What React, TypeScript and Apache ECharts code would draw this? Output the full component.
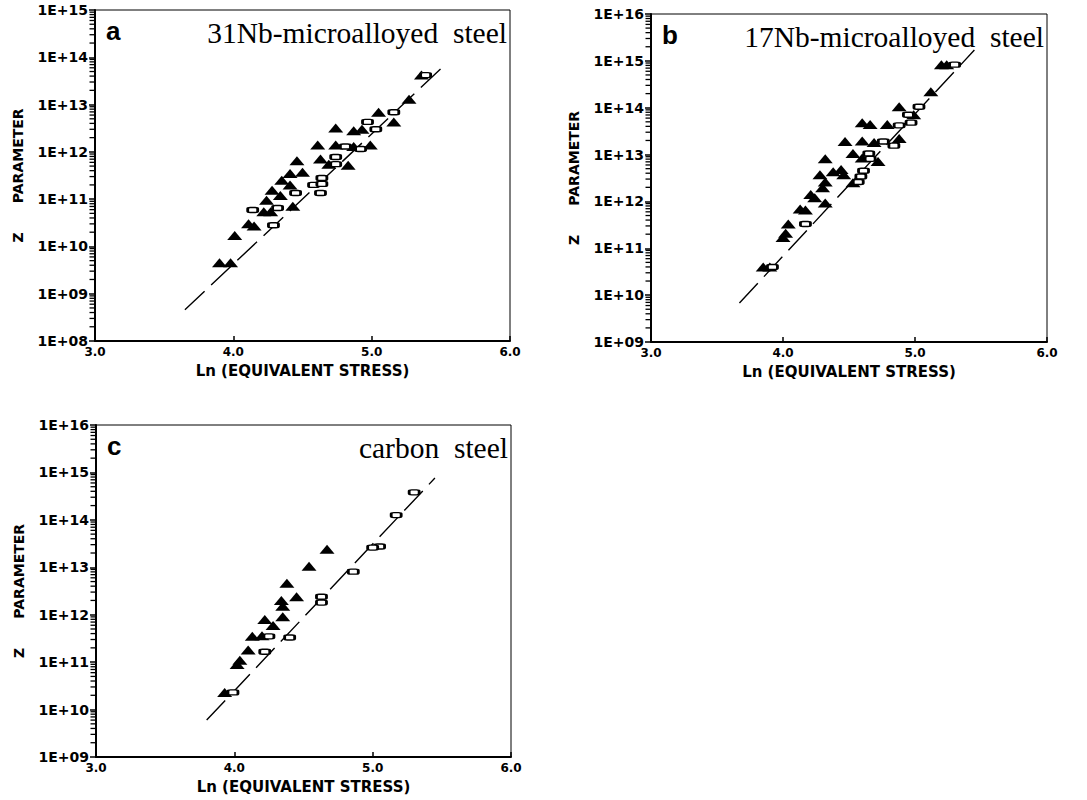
import React, { useEffect, useRef } from "react";
import * as echarts from "echarts";

// ---------- DATA ----------
// x: Ln(equivalent stress); z: Zener-Hollomon parameter
const xTicks = ["3.0", "4.0", "5.0", "6.0"];

// Panel a: 31Nb-microalloyed steel
const aTriX = [5.36, 5.27, 5.05, 5.16, 4.74, 4.87, 4.93, 4.61, 4.74, 4.87, 4.99, 4.46, 4.63, 4.69, 4.83, 4.41, 4.5, 4.35, 4.41, 4.28, 4.24, 4.34, 4.43, 4.22, 4.27, 4.11, 4.15, 4.01, 3.9, 3.98];
const aTriZ = [4.2e13, 1.3e13, 6.9e12, 4.3e12, 3.2e12, 2.8e12, 3.0e12, 1.4e12, 1.4e12, 1.3e12, 1.4e12, 6.5e11, 7.1e11, 5.5e11, 5.2e11, 3.5e11, 3.7e11, 2.5e11, 2.0e11, 1.55e11, 9.5e10, 1.2e11, 7.1e10, 5.4e10, 5.4e10, 3.0e10, 2.7e10, 1.7e10, 4.5e9, 4.5e9];
const aRectX = [5.39, 5.16, 4.97, 5.03, 4.81, 4.92, 4.74, 4.74, 4.64, 4.58, 4.64, 4.45, 4.63, 4.14, 4.32, 4.29];
const aRectZ = [4.2e13, 6.9e12, 4.3e12, 3.0e12, 1.3e12, 1.15e12, 7.8e11, 5.5e11, 2.8e11, 2.0e11, 2.1e11, 1.35e11, 1.35e11, 5.9e10, 6.5e10, 2.8e10];
const aLineX = [3.65, 5.53];
const aLineZ = [4.6e8, 6.9e13];

// Panel b: 17Nb-microalloyed steel
const bTriX = [5.2, 5.24, 5.12, 4.88, 4.99, 4.6, 4.66, 4.79, 4.47, 4.6, 4.69, 4.88, 4.32, 4.53, 4.6, 4.72, 4.44, 4.38, 4.28, 4.46, 4.53, 4.32, 4.3, 4.21, 4.24, 4.32, 4.13, 4.17, 4.04, 4.02, 4.0, 3.85, 3.9];
const bTriZ = [8.3e14, 8.3e14, 2.2e14, 1.05e14, 7.1e13, 4.8e13, 4.4e13, 4.4e13, 1.9e13, 1.95e13, 1.8e13, 2.2e13, 8.1e12, 1.05e13, 8.5e12, 7.1e12, 4.8e12, 4.3e12, 3.7e12, 3.7e12, 2.5e12, 2.6e12, 1.95e12, 1.4e12, 1.2e12, 9.3e11, 6.9e11, 6.6e11, 3.3e11, 2.1e11, 1.7e11, 4.0e10, 4.0e10];
const bRectX = [5.3, 5.03, 4.95, 4.88, 4.97, 4.76, 4.84, 4.65, 4.66, 4.61, 4.59, 4.57, 4.17, 3.92];
const bRectZ = [8.3e14, 1.05e14, 7.1e13, 4.2e13, 4.8e13, 1.9e13, 1.55e13, 1.05e13, 8.1e12, 4.5e12, 3.4e12, 2.6e12, 3.3e11, 4.0e10];
const bLineX = [3.67, 5.45];
const bLineZ = [6.8e9, 1.7e15];

// Panel c: carbon steel
const cTriX = [4.67, 4.54, 4.38, 4.45, 4.34, 4.35, 4.35, 4.22, 4.28, 4.13, 4.2, 4.1, 4.04, 4.02, 3.93];
const cTriZ = [2.4e13, 1.05e13, 4.6e12, 2.4e12, 2.0e12, 1.5e12, 9.1e11, 7.9e11, 5.9e11, 3.5e11, 3.6e11, 1.8e11, 1.1e11, 8.9e10, 2.3e10];
const cRectX = [5.3, 5.17, 5.05, 5.0, 4.86, 4.63, 4.63, 4.25, 4.4, 4.22, 3.99];
const cRectZ = [3.8e14, 1.26e14, 2.75e13, 2.6e13, 8.1e12, 2.4e12, 1.8e12, 3.5e11, 3.3e11, 1.66e11, 2.3e10];
const cLineX = [3.8, 5.45];
const cLineZ = [6.0e9, 7.6e14];

const panelLetters = ["a", "b", "c"];
const panelTitles = ["31Nb-microalloyed\u00a0\u00a0steel", "17Nb-microalloyed\u00a0\u00a0steel", "carbon\u00a0\u00a0steel"];
const yDecadeRanges = [
  [8, 15],
  [9, 16],
  [9, 16],
];
const xName = "Ln (EQUIVALENT STRESS)";
const yName = "Z\u00a0\u00a0\u00a0\u00a0\u00a0\u00a0PARAMETER";

// ---------- LAYOUT ----------
const grids = [
  { left: 95, top: 10, width: 415, height: 331 },
  { left: 651, top: 14, width: 396, height: 328 },
  { left: 96, top: 425, width: 415, height: 332 },
];

const SANS_B = "DejaVu Sans";

const pairs = (xs: number[], zs: number[]) => xs.map((x, i) => [x, Math.log10(zs[i])]);

const expLabel = (v: number) => "1E+" + (v < 10 ? "0" : "") + Math.round(v);

function minorTicks(lo: number, hi: number) {
  const out: number[] = [];
  for (let d = lo; d < hi; d++) {
    for (let k = 2; k <= 9; k++) out.push(d + Math.log10(k));
  }
  return out;
}

export default function App() {
  const ref = useRef<HTMLDivElement>(null);

  useEffect(() => {
    if (!ref.current) return;
    const chart = echarts.init(ref.current, undefined, { renderer: "svg" });

    const panels = [
      { tri: pairs(aTriX, aTriZ), rect: pairs(aRectX, aRectZ), line: pairs(aLineX, aLineZ) },
      { tri: pairs(bTriX, bTriZ), rect: pairs(bRectX, bRectZ), line: pairs(bLineX, bLineZ) },
      { tri: pairs(cTriX, cTriZ), rect: pairs(cRectX, cRectZ), line: pairs(cLineX, cLineZ) },
    ];

    const xAxes = grids.map((_, i) => ({
      type: "value",
      gridIndex: i,
      min: 3,
      max: 6,
      interval: 1,
      axisLine: { show: true, lineStyle: { color: "#000", width: 2 } },
      axisTick: { show: true, inside: true, length: 5, lineStyle: { color: "#000", width: 1.5 } },
      axisLabel: {
        color: "#000",
        fontFamily: SANS_B,
        fontWeight: "bold",
        fontSize: 12,
        margin: 5,
        formatter: (v: number) => xTicks[Math.round(v - 3)] ?? v.toFixed(1),
      },
      splitLine: { show: false },
      name: xName,
      nameLocation: "middle",
      nameGap: 22,
      nameTextStyle: { color: "#000", fontFamily: SANS_B, fontWeight: "bold", fontSize: 15 },
    }));

    const yMain = grids.map((_, i) => ({
      type: "value",
      gridIndex: i,
      min: yDecadeRanges[i][0],
      max: yDecadeRanges[i][1],
      interval: 1,
      axisLine: { show: true, lineStyle: { color: "#000", width: 2 } },
      axisTick: { show: true, length: 6, lineStyle: { color: "#000", width: 1.5 } },
      axisLabel: {
        color: "#000",
        fontFamily: SANS_B,
        fontWeight: "bold",
        fontSize: 14,
        margin: 7,
        formatter: expLabel,
      },
      splitLine: { show: false },
      name: yName,
      nameLocation: "middle",
      nameGap: 70,
      nameTextStyle: { color: "#000", fontFamily: SANS_B, fontWeight: "bold", fontSize: 14 },
    }));

    const series: any[] = [];
    panels.forEach((p, i) => {
      series.push({
        type: "line",
        xAxisIndex: i,
        yAxisIndex: i,
        data: p.line,
        symbol: "none",
        silent: true,
        lineStyle: { color: "#000", width: 1.4, type: [27, 9] },
        z: 2,
      });
      series.push({
        type: "scatter",
        xAxisIndex: i,
        yAxisIndex: i,
        data: p.tri,
        symbol: "triangle",
        symbolSize: [15, 9],
        itemStyle: { color: "#000", opacity: 1 },
        z: 3,
      });
      series.push({
        type: "scatter",
        xAxisIndex: i,
        yAxisIndex: i,
        data: p.rect,
        symbol: "roundRect",
        symbolSize: [10, 5],
        itemStyle: { color: "#fff", borderColor: "#000", borderWidth: 2, opacity: 1 },
        z: 4,
      });
      // minor log ticks on the y axis, placed through the axis scale
      series.push({
        type: "scatter",
        xAxisIndex: i,
        yAxisIndex: i,
        silent: true,
        clip: false,
        data: minorTicks(yDecadeRanges[i][0], yDecadeRanges[i][1]).map((v) => [3, v]),
        symbol: "rect",
        symbolSize: [5, 1.3],
        symbolOffset: [-3, 0],
        itemStyle: { color: "#000", opacity: 1 },
        z: 5,
      });
    });

    const graphics: any[] = [];
    grids.forEach((g, i) => {
      graphics.push({
        type: "text",
        left: g.left + 11,
        top: g.top + 8,
        style: {
          text: panelLetters[i],
          fill: "#000",
          font: "bold 26px 'Liberation Sans', Arial, sans-serif",
        },
      });
      graphics.push({
        type: "text",
        x: g.left + g.width - 3,
        y: g.top + 23,
        style: {
          text: panelTitles[i],
          fill: "#000",
          font: "29.5px 'Liberation Serif', 'Times New Roman', serif",
          align: "right",
          verticalAlign: "middle",
        },
      });
    });

    chart.setOption({
      animation: false,
      backgroundColor: "#fff",
      textStyle: { fontFamily: SANS_B },
      grid: grids.map((g) => ({
        ...g,
        show: true,
        borderColor: "#000",
        borderWidth: 1,
        backgroundColor: "transparent",
        containLabel: false,
      })),
      xAxis: xAxes,
      yAxis: yMain,
      series,
      graphic: graphics,
    });

    return () => chart.dispose();
  }, []);

  return (
    <div
      ref={ref}
      style={{ position: "fixed", left: 0, top: 0, width: 1087, height: 800, background: "#fff" }}
    />
  );
}
